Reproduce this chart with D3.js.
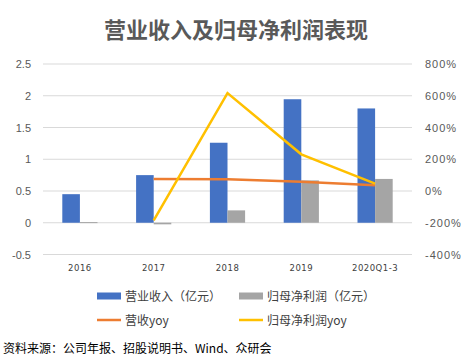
<!DOCTYPE html>
<html><head><meta charset="utf-8">
<script src="https://cdn.jsdelivr.net/npm/d3@7/dist/d3.min.js"></script>
<style>body{margin:0;background:#fff;}svg{display:block;}</style>
</head><body><svg id="c" width="474" height="361"></svg>
<script>
const categories = ["2016","2017","2018","2019","2020Q1-3"];
const revenue = [0.45, 0.75, 1.26, 1.945, 1.80];
const netProfit = [0.01, -0.025, 0.195, 0.667, 0.69];
const revenueYoy = [null, 75, 74, 59, 36];
const netProfitYoy = [null, -185, 617, 231, 46];
const leftTicks = [-0.5, 0, 0.5, 1, 1.5, 2, 2.5];
const rightTicks = [-400, -200, 0, 200, 400, 600, 800];

const svg = d3.select("#c");
const font = "'Noto Sans CJK SC','Noto Sans',sans-serif";
const L = 43, R = 412, T = 64, B = 254.5;
const x = d3.scaleBand().domain(categories).range([L, R]).padding(0);
const y = d3.scaleLinear().domain([-0.5, 2.5]).range([B, T]);
const y2 = d3.scaleLinear().domain([-400, 800]).range([B, T]);

svg.append("text").attr("x", 236).attr("y", 38).attr("text-anchor", "middle")
  .attr("font-family", font).attr("font-weight", "bold").attr("font-size", 22)
  .attr("fill", "#595959").text("营业收入及归母净利润表现");

// grid
svg.append("g").selectAll("line").data(leftTicks).join("line")
  .attr("x1", L).attr("x2", R).attr("y1", d => y(d)).attr("y2", d => y(d))
  .attr("stroke", "#d9d9d9").attr("stroke-width", 1);

// left axis
const la = svg.append("g").attr("transform", `translate(${L},0)`)
  .call(d3.axisLeft(y).tickValues(leftTicks).tickSize(0).tickPadding(12).tickFormat(d => d));
la.select(".domain").remove();
la.selectAll("text").attr("font-family", "'Liberation Sans',Arial,sans-serif").attr("font-size", 11).attr("fill", "#595959");

// right axis
const ra = svg.append("g").attr("transform", `translate(${R},0)`)
  .call(d3.axisRight(y2).tickValues(rightTicks).tickSize(0).tickPadding(13).tickFormat(d => d + "%"));
ra.select(".domain").remove();
ra.selectAll("text").attr("font-family", "'Liberation Sans',Arial,sans-serif").attr("font-size", 11).attr("fill", "#595959").attr("letter-spacing", 1);

// x labels
svg.append("g").selectAll("text").data(categories).join("text")
  .attr("x", d => x(d) + x.bandwidth() / 2).attr("y", 271).attr("text-anchor", "middle")
  .attr("font-family", "'DejaVu Sans',sans-serif").attr("font-size", 8.5).attr("fill", "#404040")
  .attr("letter-spacing", 0.5).text(d => d);

const bw = 17.6;
svg.append("g").selectAll("rect").data(categories).join("rect")
  .attr("x", d => x(d) + x.bandwidth() / 2 - bw).attr("width", bw)
  .attr("y", (d, i) => Math.min(y(revenue[i]), y(0))).attr("height", (d, i) => Math.abs(y(revenue[i]) - y(0)))
  .attr("fill", "#4472C4");
svg.append("g").selectAll("rect").data(categories).join("rect")
  .attr("x", d => x(d) + x.bandwidth() / 2).attr("width", bw)
  .attr("y", (d, i) => Math.min(y(netProfit[i]), y(0))).attr("height", (d, i) => Math.max(1, Math.abs(y(netProfit[i]) - y(0))))
  .attr("fill", "#A5A5A5");

const line = d3.line().defined(d => d[1] != null)
  .x(d => x(d[0]) + x.bandwidth() / 2).y(d => y2(d[1]));
svg.append("path").datum(categories.map((c, i) => [c, revenueYoy[i]])).attr("d", line)
  .attr("fill", "none").attr("stroke", "#ED7D31").attr("stroke-width", 2.5);
svg.append("path").datum(categories.map((c, i) => [c, netProfitYoy[i]])).attr("d", line)
  .attr("fill", "none").attr("stroke", "#FFC000").attr("stroke-width", 2.5);

// legend
const lg = svg.append("g").attr("font-family", font).attr("font-size", 12).attr("fill", "#404040");
const items = [
  {t: "营业收入（亿元）", c: "#4472C4", type: "rect", x: 97, y: 296},
  {t: "归母净利润（亿元）", c: "#A5A5A5", type: "rect", x: 239, y: 296},
  {t: "营收yoy", c: "#ED7D31", type: "line", x: 97, y: 320},
  {t: "归母净利润yoy", c: "#FFC000", type: "line", x: 239, y: 320}
];
items.forEach(it => {
  if (it.type === "rect") lg.append("rect").attr("x", it.x).attr("y", it.y - 3.5).attr("width", 24).attr("height", 7).attr("fill", it.c);
  else lg.append("line").attr("x1", it.x).attr("x2", it.x + 24).attr("y1", it.y).attr("y2", it.y).attr("stroke", it.c).attr("stroke-width", 2.5);
  lg.append("text").attr("x", it.x + 28).attr("y", it.y + 4.5).attr("fill", "#404040").text(it.t);
});

svg.append("text").attr("x", 3).attr("y", 353).attr("font-family", font).attr("font-size", 12)
  .attr("fill", "#000").text("资料来源：公司年报、招股说明书、Wind、众研会");
</script></body></html>
